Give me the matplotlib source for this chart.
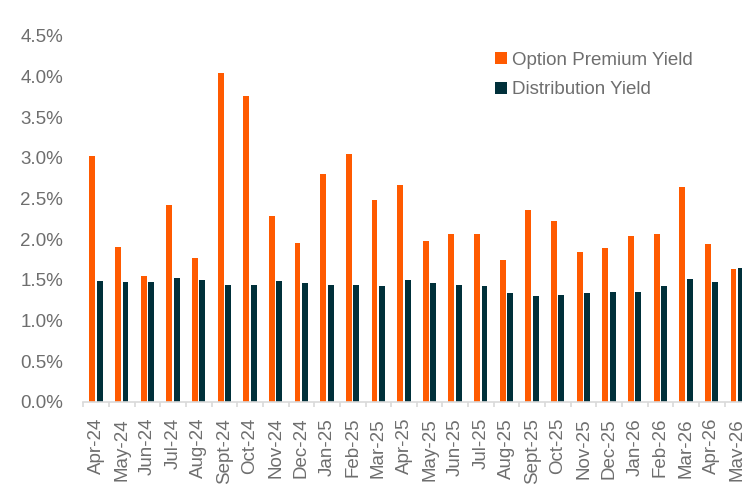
import numpy as np
import matplotlib
matplotlib.use("Agg")
import matplotlib.pyplot as plt
from matplotlib.ticker import FuncFormatter, FixedLocator

plt.rcParams['font.family'] = ['Liberation Sans', 'DejaVu Sans']

# monthly yields, in percent
months = ["Apr-24", "May-24", "Jun-24", "Jul-24", "Aug-24", "Sept-24", "Oct-24",
          "Nov-24", "Dec-24", "Jan-25", "Feb-25", "Mar-25", "Apr-25", "May-25",
          "Jun-25", "Jul-25", "Aug-25", "Sept-25", "Oct-25", "Nov-25", "Dec-25",
          "Jan-26", "Feb-26", "Mar-26", "Apr-26", "May-26"]
option_premium = [3.02, 1.90, 1.55, 2.42, 1.77, 4.04, 3.76, 2.29, 1.95, 2.80,
                  3.05, 2.48, 2.67, 1.98, 2.06, 2.06, 1.75, 2.36, 2.23, 1.85,
                  1.89, 2.04, 2.06, 2.64, 1.94, 1.64]
distribution = [1.49, 1.48, 1.48, 1.53, 1.50, 1.44, 1.44, 1.49, 1.46, 1.44,
                1.44, 1.43, 1.50, 1.46, 1.44, 1.43, 1.34, 1.30, 1.32, 1.34,
                1.35, 1.35, 1.43, 1.51, 1.48, 1.65]

orange = "#ff5a00"
dark = "#00303a"
txt = "#6e6e6e"
fs = 13.5

fig = plt.figure(figsize=(7.42, 4.88), dpi=100)
ax = fig.add_axes([83.4 / 742, 86 / 488, (742 - 83.4) / 742, 366 / 488])

x = np.arange(len(months))
w = 0.23
ax.bar(x - 0.15, option_premium, w, color=orange, label="Option Premium Yield")
ax.bar(x + 0.14, distribution, w, color=dark, label="Distribution Yield")

ax.set_ylim(0, 4.5)
ax.set_xlim(-0.5, 25.18)
ax.set_yticks(np.arange(0, 4.51, 0.5))
ax.yaxis.set_major_formatter(FuncFormatter(lambda v, p: f"{v:.1f}%"))
ax.tick_params(axis="y", length=0, pad=14.5, labelsize=fs, labelcolor=txt)

ax.set_xticks(x)
ax.set_xticklabels(months, rotation=90, fontsize=fs, color=txt)
ax.xaxis.set_minor_locator(FixedLocator(np.arange(-0.5, 26, 1)))
ax.tick_params(axis="x", which="major", length=0, pad=11.5)
ax.tick_params(axis="x", which="minor", length=3.6, width=1.2, color="#d9d9d9")

for s in ["top", "right", "left"]:
    ax.spines[s].set_visible(False)
ax.spines["bottom"].set_color("#d9d9d9")
ax.spines["bottom"].set_linewidth(1.2)

fig.legend(loc="upper left", bbox_to_anchor=(495 / 742, 1 - 52 / 488),
           frameon=False, fontsize=fs, labelcolor=txt, handlelength=0.62,
           handleheight=0.62, handletextpad=0.27, labelspacing=0.65, borderpad=0,
           borderaxespad=0)

fig.savefig("out.png", dpi=100)
